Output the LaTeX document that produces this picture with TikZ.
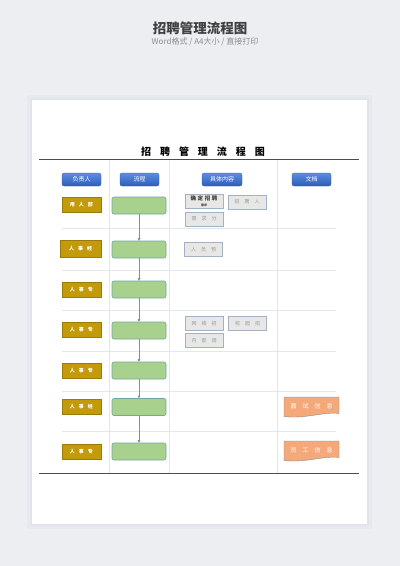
\documentclass[tikz,border=0pt]{standalone}
\usepackage{fontspec}
\setmainfont{Noto Sans CJK SC}
\usetikzlibrary{positioning,arrows.meta}
\definecolor{bggray}{HTML}{ECEEF2}
\definecolor{pageshadow}{HTML}{E1E4EA}
\definecolor{gold}{HTML}{C29A0A}
\definecolor{leaf}{HTML}{A9D18E}
\definecolor{leafline}{HTML}{72A6A2}
\definecolor{headtop}{HTML}{5D8DE2}
\definecolor{headbot}{HTML}{2E5DB6}
\definecolor{itemfill}{HTML}{E7E7E7}
\definecolor{itemline}{HTML}{A3B1C3}
\definecolor{peach}{HTML}{F4A97B}
\definecolor{grid}{HTML}{E2E7EE}
\newcommand{\tsize}[1]{\fontsize{#1}{#1}\selectfont}
\newcommand{\spaced}[1]{\addfontfeature{LetterSpace=#1}}
\tikzset{
  head/.style={rounded corners=2pt, top color=headtop, bottom color=headbot,
    draw=headbot, line width=0.3pt, minimum width=39pt, minimum height=13pt,
    inner sep=0pt, text=white, font=\tsize{6}},
  who/.style={fill=gold, draw=gold!80!black, line width=0.3pt, minimum width=39pt,
    minimum height=15pt, inner sep=0pt, text=white, font=\tsize{5}\bfseries\spaced{80}},
  flowbox/.style={fill=leaf, draw=leafline, line width=0.6pt, rounded corners=2pt,
    minimum width=54pt, minimum height=17pt, inner sep=0pt},
  item/.style={fill=itemfill, draw=itemline, line width=0.6pt, minimum width=38pt,
    minimum height=14pt, inner sep=0pt, text=black!40, font=\tsize{5}\spaced{100}},
  docfill/.style={fill=peach, draw=black!45, line width=0.4pt},
  doctext/.style={inner sep=0pt, text=white, font=\tsize{6}\spaced{100}},
  link/.style={draw=black!45, line width=0.6pt, -{Triangle[length=2.5pt,width=2.5pt]}},
  sep/.style={draw=grid, line width=0.5pt},
  rule/.style={draw=black!70, line width=0.9pt}
}

\begin{document}
\begin{tikzpicture}[x=1pt,y=-1pt]
  \useasboundingbox (0,0) rectangle (400,566);
  \fill[bggray] (0,0) rectangle (400,566);

  % top title
  \node (title) at (200,28) {\tsize{13.5}\bfseries\color{black!75}招聘管理流程图};
  \node (subtitle) at (205,42) {\tsize{8}\color{black!45}Word格式 / A4大小 / 直接打印};

  % page with a soft shadow
  \fill[pageshadow!50!bggray] (27,95) rectangle (372,529);
  \fill[pageshadow] (30,98) rectangle (369,526);
  \fill[white] (32,100) rectangle (367,524);

  \node (pagetitle) at (198.5,151.5) {\tsize{10}\bfseries\spaced{90}\hspace{9pt}招聘管理流程图};

  % grid
  \draw[sep] (109,160) -- (109,473);
  \draw[sep] (169,160) -- (169,473);
  \draw[sep] (277,160) -- (277,473);
  \draw[sep] (62,228) -- (336,228);
  \draw[sep] (62,270) -- (336,270);
  \draw[sep] (62,310) -- (336,310);
  \draw[sep] (62,351) -- (336,351);
  \draw[sep] (62,391) -- (336,391);
  \draw[sep] (62,431) -- (336,431);
  \draw[rule] (39,159) -- (359,159);
  \draw[rule] (39,473) -- (359,473);

  % headers
  \node[head] (h1) at (81.5,179.5) {负责人};
  \node[head] (h2) at (139.5,179.5) {流程};
  \node[head, minimum width=40pt] (h3) at (222,179.5) {具体内容};
  \node[head] (h4) at (311.5,179.5) {文档};

  % who
  \node[who] (w1) at (81.5,205) {用人部};
  \node[who, minimum width=41pt, minimum height=17pt] (w2) at (80.5,248.5) {人事经};
  \node[who] (w3) at (81.5,290) {人事专};
  \node[who] (w4) at (81.5,330) {人事专};
  \node[who] (w5) at (81.5,371) {人事专};
  \node[who] (w6) at (81.5,407) {人事经};
  \node[who] (w7) at (81.5,451.5) {人事专};

  % flow
  \node[flowbox] (f1) at (139,205.5) {};
  \node[flowbox] (f2) at (139,249.5) {};
  \node[flowbox] (f3) at (139,289.5) {};
  \node[flowbox] (f4) at (139,330.5) {};
  \node[flowbox] (f5) at (139,370.5) {};
  \node[flowbox] (f6) at (139,407) {};
  \node[flowbox] (f7) at (139,451.5) {};
  \draw[link] (f1) -- (f2);
  \draw[link] (f2) -- (f3);
  \draw[link] (f3) -- (f4);
  \draw[link] (f4) -- (f5);
  \draw[link] (f5) -- (f6);
  \draw[link] (f6) -- (f7);

  % details
  \node[item, text=black!75, font=\tsize{5.5}\bfseries] (c1) at (204,201)
    {\shortstack{\spaced{30}确定招聘\\[-0.5pt]{\tsize{3}需求}}};
  \node[item] (c2) at (247,202) {招聘人};
  \node[item] (c3) at (204,219) {需求分};
  \node[item] (c4) at (203.5,249.5) {人员预};
  \node[item] (c5) at (204,323.5) {网络招};
  \node[item] (c6) at (247.5,323.5) {校园招};
  \node[item] (c7) at (204,340.5) {内部调};

  % documents
  \path[docfill] (284,397) -- (339,397) -- (339,413.5)
    .. controls (324,411.5) and (306,419) .. (284,416.5) -- cycle;
  \node[doctext] (d1) at (311.5,406) {面试信息};
  \path[docfill] (284,441) -- (339,441) -- (339,457.5)
    .. controls (324,455.5) and (306,463) .. (284,460.5) -- cycle;
  \node[doctext] (d2) at (311.5,450) {员工信息};
\end{tikzpicture}
\end{document}
